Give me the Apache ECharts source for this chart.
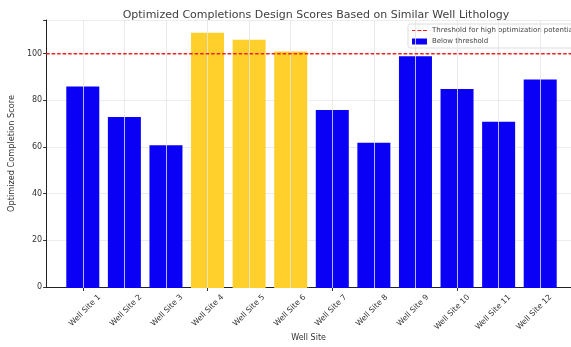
<!DOCTYPE html>
<html lang="en">
<head>
<meta charset="UTF-8">
<title>Optimized Completions Design Scores</title>
<script src="https://cdn.jsdelivr.net/npm/echarts@6/dist/echarts.min.js"></script>
<style>
  html, body { margin: 0; padding: 0; background: #fff; }
  #main { width: 571px; height: 347px; }
</style>
</head>
<body>
<div id="main"></div>
<script type="text/javascript">
// data
var sites = ['Well Site 1', 'Well Site 2', 'Well Site 3', 'Well Site 4', 'Well Site 5', 'Well Site 6',
             'Well Site 7', 'Well Site 8', 'Well Site 9', 'Well Site 10', 'Well Site 11', 'Well Site 12'];
var scores = [86, 73, 61, 109, 106, 101, 76, 62, 99, 85, 71, 89];
var threshold = 100;
var yTicks = [0, 20, 40, 60, 80, 100];
var yMax = 114.45;

var font = 'DejaVu Sans';
var red = '#F22222';
var myChart = echarts.init(document.getElementById('main'));

var barData = [];
for (var i = 0; i < scores.length; i++) {
    barData.push({
        value: scores[i],
        itemStyle: { color: scores[i] >= threshold ? '#FFD02C' : '#0A00F5' }
    });
}
// faint vertical grid lines at each category centre
var vLines = [];
for (var j = 0; j < sites.length; j++) {
    vLines.push({ xAxis: sites[j] });
}

myChart.setOption({
    animation: false,
    textStyle: { fontFamily: font },
    title: {
        text: 'Optimized Completions Design Scores Based on Similar Well Lithology',
        left: 311, top: 5, textAlign: 'center',
        textStyle: { fontFamily: font, fontSize: 11, fontWeight: 'normal', color: '#404040' }
    },
    legend: {
        left: 408, top: 24, orient: 'vertical',
        itemWidth: 15, itemHeight: 6, itemGap: 4,
        padding: [3, 8, 3, 4],
        backgroundColor: '#fff', borderColor: '#ddd', borderWidth: 1, borderRadius: 2,
        textStyle: { fontFamily: font, fontSize: 7, color: '#444' },
        data: [
            { name: 'Threshold for high optimization potential',
              icon: 'path://M0,0h4v1.2h-4zM5.5,0h4v1.2h-4zM11,0h4v1.2h-4z' },
            { name: 'Below threshold', icon: 'rect' }
        ]
    },
    grid: [
        { left: 42, right: -10, top: 20, bottom: 59 },
        { left: 62, right: 10, top: 20, bottom: 59 },
        // labels only, shifted so each rotated label sits centred under its tick
        { left: 79, right: -7, top: 20, bottom: 59 }
    ],
    xAxis: [
        {
            gridIndex: 0, type: 'value', min: 0, max: 1,
            axisLine: { show: true, lineStyle: { color: '#222', width: 1 } },
            axisTick: { show: false }, axisLabel: { show: false }, splitLine: { show: false },
            name: 'Well Site', nameLocation: 'middle', nameGap: 47,
            nameTextStyle: { fontFamily: font, fontSize: 8, color: '#333' }
        },
        {
            gridIndex: 1, type: 'category', data: sites,
            axisLine: { show: false },
            axisTick: { show: true, alignWithLabel: true, length: 3, lineStyle: { color: '#333' } },
            axisLabel: { show: false },
            splitLine: { show: false }
        },
        {
            gridIndex: 2, type: 'category', data: sites,
            axisLine: { show: false }, axisTick: { show: false },
            axisLabel: { rotate: 45, fontSize: 7.8, color: '#333', margin: 8, interval: 0 },
            splitLine: { show: false }
        }
    ],
    yAxis: [
        {
            gridIndex: 0, type: 'value', min: 0, max: yMax, interval: 20,
            axisLine: { show: true, lineStyle: { color: '#222', width: 1 } },
            axisTick: { show: true, length: 3, lineStyle: { color: '#333' } },
            axisLabel: {
                fontSize: 8, color: '#333', margin: 4,
                formatter: function (v) { return yTicks.indexOf(v) >= 0 ? v : ''; }
            },
            splitLine: { show: true, lineStyle: { color: '#e8e8e8', width: 0.8 } },
            name: 'Optimized Completion Score', nameLocation: 'middle', nameGap: 24,
            nameTextStyle: { fontFamily: font, fontSize: 8.2, color: '#333' }
        },
        {
            gridIndex: 1, type: 'value', min: 0, max: yMax,
            axisLine: { show: false }, axisTick: { show: false },
            axisLabel: { show: false }, splitLine: { show: false }
        },
        {
            gridIndex: 2, type: 'value', min: 0, max: yMax,
            axisLine: { show: false }, axisTick: { show: false },
            axisLabel: { show: false }, splitLine: { show: false }
        }
    ],
    series: [
        {
            name: 'Below threshold', type: 'bar',
            xAxisIndex: 1, yAxisIndex: 1,
            barWidth: 33,
            itemStyle: { color: '#0A00F5' },
            data: barData,
            markLine: {
                silent: true, symbol: 'none', label: { show: false },
                lineStyle: { color: '#e4e4e4', width: 0.8, type: 'solid' },
                data: vLines
            }
        },
        {
            name: 'Threshold for high optimization potential', type: 'line',
            xAxisIndex: 0, yAxisIndex: 0,
            symbol: 'none', silent: true, z: 5,
            itemStyle: { color: red },
            lineStyle: { color: red, type: [3.5, 2], width: 1.4 },
            data: [[0, threshold], [1, threshold]]
        }
    ]
});
</script>
</body>
</html>
